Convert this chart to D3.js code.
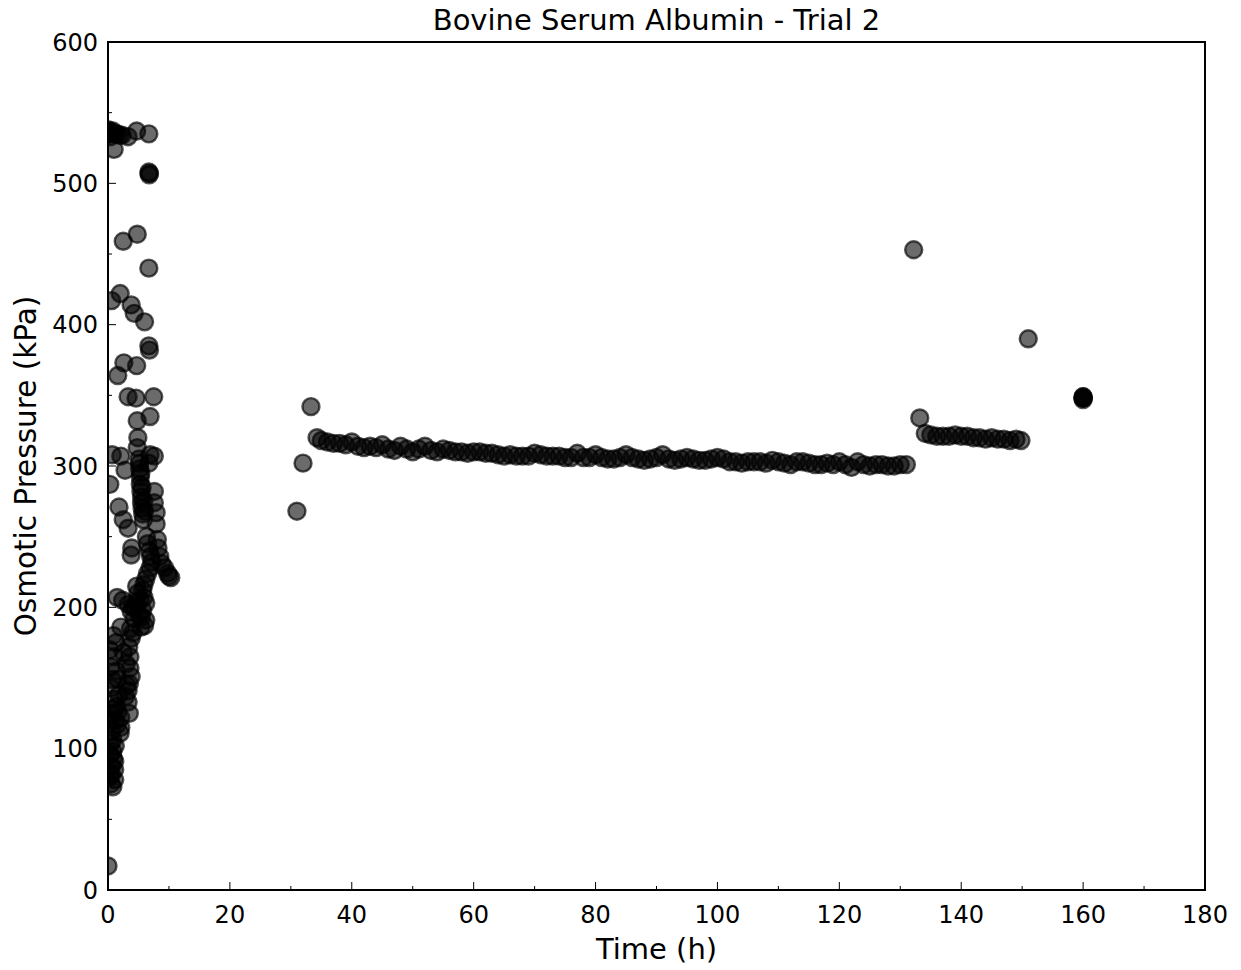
<!DOCTYPE html>
<html>
<head>
<meta charset="utf-8">
<script src="https://cdn.jsdelivr.net/npm/d3@7"></script>
<style>
  body { margin: 0; background: #fff; }
  text { font-family: 'DejaVu Sans', sans-serif; fill: #000; }
</style>
</head>
<body>
<svg id="chart" width="1241" height="970"></svg>
<script>
// early measurements (h, kPa) - the noisy first 10 hours
var earlyTime = [
  0, 0.2, 0.5, 0.8, 1.1, 1.5, 1.9, 2.3, 3.3, 4.7, 6.7, 1.0, 0.1, 0.4,
  6.7, 6.8, 6.75, 2.5, 4.8, 6.7,
  0.6, 2.0, 3.8, 4.3, 6.0, 6.7, 6.8,
  1.6, 2.6, 4.7, 3.3, 4.6, 7.5, 4.8, 6.9, 4.9, 4.8,
  0.7, 2.1, 6.9, 7.6, 2.8, 6.7, 0.3,
  5.1, 5.2, 5.3, 5.3, 5.4, 5.5, 5.5, 5.6, 5.7, 5.8, 5.2, 5.4, 5.6, 5.9, 6.0,
  7.6, 7.6, 7.9, 7.9, 1.8, 2.5, 3.3, 3.9, 3.8,
  8.1, 8.2, 8.5, 8.8, 9.3, 9.8, 10.3, 10.0,
  6.3, 6.5, 6.8, 7.0, 7.2, 6.9, 6.5, 6.2, 5.9, 5.7, 5.9, 6.2,
  1.5, 2.4, 3.3, 4.0, 4.6, 2.1,
  3.8, 4.3, 4.1, 3.8, 5.7, 6.2, 6.0, 5.5, 5.4,
  2.5, 3.6, 3.6, 3.8, 3.3, 3.3, 3.5, 2.9,
  1.0, 0.7, 1.6, 1.8, 1.4, 0.5, 0.3,
  2.1, 1.2, 2.1, 2.0, 1.6, 0.9,
  0.8, 0.8, 1.1, 1.1, 0.5, 0.8, 0.3, 0.6, 0.4, 0.6, 0.2,
  0.9, 1.3, 0.5, 1.0, 1.4, 0.7, 1.2, 0.4, 1.5, 0.9, 1.1, 0.6,
  3.0, 3.4, 3.1, 3.7, 4.4, 4.9, 5.1, 5.3, 4.7, 3.5,
  0
];
var earlyPressure = [
  538, 537, 536, 537, 535, 535, 534, 534, 533, 537, 535, 524, 535, 533,
  508, 507, 506, 459, 464, 440,
  417, 422, 414, 408, 402, 385, 382,
  364, 373, 371, 349, 348, 349, 332, 335, 320, 313,
  308, 307, 308, 307, 297, 302, 287,
  305, 298, 292, 287, 282, 278, 274, 270, 266, 262, 302, 295, 285, 275, 268,
  282, 274, 267, 259, 271, 262, 256, 242, 237,
  248, 242, 236, 231, 228, 224, 221, 222,
  250, 245, 240, 236, 232, 228, 224, 220, 216, 212, 207, 203,
  207, 205, 202, 200, 204, 186,
  197, 192, 182, 178, 198, 191, 187, 193, 186,
  168, 165, 157, 151, 141, 133, 146, 137,
  165, 149, 149, 138, 155, 158, 170,
  122, 120, 115, 111, 126, 128,
  106, 98, 91, 85, 75, 73, 80, 88, 96, 112, 118,
  180, 175, 143, 135, 130, 125, 102, 104, 117, 93, 78, 82,
  160, 172, 145, 185, 200, 210, 195, 205, 215, 125,
  17
];

// restart after the gap
var rampTime = [31, 32, 33.3, 34.3];
var rampPressure = [268, 302, 342, 320];

// long plateau, roughly hourly
var plateauTime = [
  35, 36, 37, 38, 39, 40, 41, 42, 43, 44, 45, 46, 47, 48, 49, 50, 51, 52, 53, 54,
  55, 56, 57, 58, 59, 60, 61, 62, 63, 64, 65, 66, 67, 68, 69, 70, 71, 72, 73, 74,
  75, 76, 77, 78, 79, 80, 81, 82, 83, 84, 85, 86, 87, 88, 89, 90, 91, 92, 93, 94,
  95, 96, 97, 98, 99, 100, 101, 102, 103, 104, 105, 106, 107, 108, 109, 110, 111, 112, 113, 114,
  115, 116, 117, 118, 119, 120, 121, 122, 123, 124, 125, 126, 127, 128, 129, 130, 131
];
var plateauPressure = [
  318, 317, 316, 316, 315, 317, 314, 313, 314, 313, 315, 312, 311, 314, 312, 310, 312, 314, 311, 310,
  312, 311, 310, 310, 309, 310, 310, 309, 309, 308, 307, 308, 307, 307, 307, 309, 308, 307, 307, 307,
  306, 306, 309, 306, 306, 308, 306, 305, 305, 306, 308, 306, 305, 304, 305, 306, 308, 305, 304, 305,
  306, 305, 304, 304, 305, 306, 305, 303, 303, 302, 303, 303, 303, 302, 304, 303, 302, 301, 303, 303,
  302, 301, 301, 302, 301, 303, 301, 299, 303, 301, 300, 301, 301, 300, 300, 301, 301
];

// second step after 132 h
var stepTime = [132.2, 133.2, 134.1, 135, 136, 137, 138, 139, 140, 141, 142, 143, 144, 145, 146, 147, 148, 149, 149.8];
var stepPressure = [453, 334, 323, 322, 321, 321, 321, 322, 321, 321, 320, 320, 319, 320, 319, 319, 318, 319, 318];

var lateTime = [151, 160, 160, 160, 160, 160];
var latePressure = [390, 348, 349, 348, 349, 347];

var xTicks = [0, 20, 40, 60, 80, 100, 120, 140, 160, 180];
var yTicks = [0, 100, 200, 300, 400, 500, 600];

var points = [];
[[earlyTime, earlyPressure], [rampTime, rampPressure], [plateauTime, plateauPressure],
 [stepTime, stepPressure], [lateTime, latePressure]].forEach(function(s) {
  s[0].forEach(function(t, i) { points.push({ t: t, p: s[1][i] }); });
});

var svg = d3.select('#chart'),
    margin = { left: 108, right: 36, top: 42, bottom: 80 },
    width = +svg.attr('width') - margin.left - margin.right,
    height = +svg.attr('height') - margin.top - margin.bottom;

var x = d3.scaleLinear().domain([0, 180]).range([0, width]);
var y = d3.scaleLinear().domain([0, 600]).range([height, 0]);

var g = svg.append('g').attr('transform', 'translate(' + margin.left + ',' + margin.top + ')');

g.append('clipPath').attr('id', 'plotClip')
  .append('rect').attr('width', width).attr('height', height);

// markers
g.append('g').attr('clip-path', 'url(#plotClip)')
  .selectAll('circle')
  .data(points)
  .enter().append('circle')
    .attr('cx', function(d) { return x(d.t); })
    .attr('cy', function(d) { return y(d.p); })
    .attr('r', 8.5)
    .attr('fill', '#000')
    .attr('fill-opacity', 0.58)
    .attr('stroke', '#000')
    .attr('stroke-opacity', 0.65)
    .attr('stroke-width', 2.4);

// ticks (inside, left and bottom only)
var xAxis = g.append('g').attr('transform', 'translate(0,' + height + ')');
xAxis.selectAll('.minor').data(d3.range(10, 180, 20)).enter().append('line')
  .attr('x1', x).attr('x2', x).attr('y1', 0).attr('y2', -4)
  .attr('stroke', '#000').attr('stroke-width', 1);
xAxis.selectAll('.major').data(xTicks).enter().append('line')
  .attr('x1', x).attr('x2', x).attr('y1', 0).attr('y2', -8)
  .attr('stroke', '#000').attr('stroke-width', 1);
xAxis.selectAll('text').data(xTicks).enter().append('text')
  .attr('x', x).attr('y', 33)
  .attr('text-anchor', 'middle')
  .style('font-size', '24px')
  .text(function(d) { return d; });

var yAxis = g.append('g');
yAxis.selectAll('.minor').data(d3.range(50, 600, 100)).enter().append('line')
  .attr('y1', y).attr('y2', y).attr('x1', 0).attr('x2', 4)
  .attr('stroke', '#000').attr('stroke-width', 1);
yAxis.selectAll('.major').data(yTicks).enter().append('line')
  .attr('y1', y).attr('y2', y).attr('x1', 0).attr('x2', 8)
  .attr('stroke', '#000').attr('stroke-width', 1);
yAxis.selectAll('text').data(yTicks).enter().append('text')
  .attr('x', -10).attr('y', y).attr('dy', '0.36em')
  .attr('text-anchor', 'end')
  .style('font-size', '24px')
  .text(function(d) { return d; });

// frame
g.append('rect').attr('width', width).attr('height', height)
  .attr('fill', 'none').attr('stroke', '#000').attr('stroke-width', 2);

// labels
svg.append('text')
  .attr('x', margin.left + width / 2).attr('y', 30)
  .attr('text-anchor', 'middle')
  .style('font-size', '29px')
  .text('Bovine Serum Albumin - Trial 2');

svg.append('text')
  .attr('x', margin.left + width / 2).attr('y', 959)
  .attr('text-anchor', 'middle')
  .style('font-size', '29px')
  .text('Time (h)');

svg.append('text')
  .attr('transform', 'translate(36,' + (margin.top + height / 2) + ') rotate(-90)')
  .attr('text-anchor', 'middle')
  .style('font-size', '29.5px')
  .text('Osmotic Pressure (kPa)');
</script>
</body>
</html>
